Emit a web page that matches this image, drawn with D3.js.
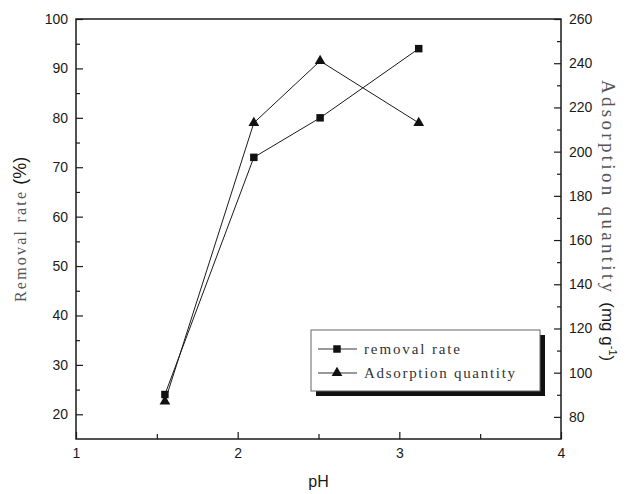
<!DOCTYPE html>
<html>
<head>
<meta charset="utf-8">
<script src="https://cdn.jsdelivr.net/npm/d3@7"></script>
<style>
  html, body { margin: 0; padding: 0; background: #fff; }
  svg { display: block; }
</style>
</head>
<body>
<svg id="chart" width="634" height="494"></svg>
<script>
// pH series with removal rate (left axis) and adsorption quantity (right axis)
const phValues = [1.55, 2.10, 2.51, 3.12];
const removalRate = [24, 72, 80, 94];
const adsorptionQty = [87, 213, 241, 213];

const xMajorTicks = [1, 2, 3, 4];
const xMinorTicks = [1.5, 2.5, 3.5];
const leftMajorTicks = [20, 30, 40, 50, 60, 70, 80, 90, 100];
const leftMinorTicks = [25, 35, 45, 55, 65, 75, 85, 95];
const rightMajorTicks = [80, 100, 120, 140, 160, 180, 200, 220, 240, 260];
const rightMinorTicks = [90, 110, 130, 150, 170, 190, 210, 230, 250];

const seriesNames = ["removal rate", "Adsorption quantity"];

const svg = d3.select("#chart");
const margin = { left: 76, right: 73, top: 19, bottom: 55 };
const W = 634, H = 494;
const x0 = margin.left, x1 = W - margin.right;
const y0 = H - margin.bottom, y1 = margin.top;

const x = d3.scaleLinear().domain([1, 4]).range([x0, x1]);
const yL = d3.scaleLinear().domain([15, 100]).range([y0, y1]);
const yR = d3.scaleLinear().domain([70, 260]).range([y0, y1]);

const ink = "#1a1a1a";
const sans = "'Liberation Sans', Arial, sans-serif";
const serif = "'Liberation Serif', 'DejaVu Serif', serif";

function styleAxis(g) {
  g.select(".domain").remove();
  g.selectAll(".tick line").attr("stroke", ink).attr("stroke-width", 1.2);
  g.selectAll(".tick text").attr("fill", ink).style("font-family", sans).style("font-size", "14px");
}

// bottom axis
svg.append("g").attr("transform", `translate(0,${y0})`)
  .call(d3.axisBottom(x).tickValues(xMajorTicks).tickSize(-7).tickPadding(9).tickFormat(d3.format("d")))
  .call(styleAxis);
svg.append("g").attr("transform", `translate(0,${y0})`)
  .call(d3.axisBottom(x).tickValues(xMinorTicks).tickSize(-5).tickFormat(""))
  .call(styleAxis);

// left axis
svg.append("g").attr("transform", `translate(${x0},0)`)
  .call(d3.axisLeft(yL).tickValues(leftMajorTicks).tickSize(-7).tickPadding(8).tickFormat(d3.format("d")))
  .call(styleAxis);
svg.append("g").attr("transform", `translate(${x0},0)`)
  .call(d3.axisLeft(yL).tickValues(leftMinorTicks).tickSize(-4).tickFormat(""))
  .call(styleAxis);

// right axis
svg.append("g").attr("transform", `translate(${x1},0)`)
  .call(d3.axisRight(yR).tickValues(rightMajorTicks).tickSize(-7).tickPadding(8).tickFormat(d3.format("d")))
  .call(styleAxis);
svg.append("g").attr("transform", `translate(${x1},0)`)
  .call(d3.axisRight(yR).tickValues(rightMinorTicks).tickSize(-4).tickFormat(""))
  .call(styleAxis);

// frame
svg.append("rect")
  .attr("x", x0).attr("y", y1).attr("width", x1 - x0).attr("height", y0 - y1)
  .attr("fill", "none").attr("stroke", ink).attr("stroke-width", 1.5);

// axis titles
svg.append("text")
  .attr("x", (x0 + x1) / 2).attr("y", 487)
  .attr("text-anchor", "middle").attr("fill", ink)
  .style("font-family", sans).style("font-size", "16px")
  .text("pH");

const leftTitle = svg.append("text")
  .attr("transform", "translate(26,302) rotate(-90)")
  .attr("fill", "#555");
leftTitle.append("tspan").style("font-family", serif).style("font-size", "16px")
  .attr("textLength", 110).attr("lengthAdjust", "spacing").text("Removal rate");
leftTitle.append("tspan").attr("dx", 5).style("font-family", sans).style("font-size", "18px")
  .attr("fill", ink).text("(%)");

const rightTitle = svg.append("text")
  .attr("transform", "translate(602,80) rotate(90)")
  .attr("fill", "#555");
rightTitle.append("tspan").style("font-family", serif).style("font-size", "19px")
  .attr("textLength", 212).attr("lengthAdjust", "spacing").text("Adsorption quantity");
rightTitle.append("tspan").attr("dx", 7).style("font-family", sans).style("font-size", "17px").attr("fill", ink).text("(mg g");
rightTitle.append("tspan").style("font-family", sans).style("font-size", "11px").attr("fill", ink).attr("dy", -7).text("-1");
rightTitle.append("tspan").style("font-family", sans).style("font-size", "17px").attr("fill", ink).attr("dy", 7).text(")");

// series
const removalPts = phValues.map((p, i) => [x(p), yL(removalRate[i])]);
const adsorptionPts = phValues.map((p, i) => [x(p), yR(adsorptionQty[i])]);
const line = d3.line();

svg.append("path").attr("d", line(removalPts)).attr("fill", "none").attr("stroke", ink).attr("stroke-width", 1);
svg.append("path").attr("d", line(adsorptionPts)).attr("fill", "none").attr("stroke", ink).attr("stroke-width", 1);

const square = d3.symbol().type(d3.symbolSquare).size(56);
const triangle = d3.symbol().type(d3.symbolTriangle).size(50);

svg.selectAll(".sq").data(removalPts).join("path")
  .attr("transform", d => `translate(${d[0]},${d[1]})`)
  .attr("d", square).attr("fill", "#111");
svg.selectAll(".tri").data(adsorptionPts).join("path")
  .attr("transform", d => `translate(${d[0]},${d[1]})`)
  .attr("d", triangle).attr("fill", "#111");

// legend with drop shadow
const lg = { x: 311, y: 330, w: 229, h: 61 };
svg.append("rect").attr("x", lg.x + 5).attr("y", lg.y + 5).attr("width", lg.w).attr("height", lg.h).attr("fill", "#111");
svg.append("rect").attr("x", lg.x).attr("y", lg.y).attr("width", lg.w).attr("height", lg.h)
  .attr("fill", "#fff").attr("stroke", "#666").attr("stroke-width", 1);

const symbols = [square, triangle];
const legendTextWidths = [96, 151];
seriesNames.forEach((name, i) => {
  const cy = lg.y + 19 + i * 24;
  svg.append("line").attr("x1", lg.x + 7).attr("x2", lg.x + 46).attr("y1", cy).attr("y2", cy)
    .attr("stroke", "#333").attr("stroke-width", 1);
  svg.append("path").attr("transform", `translate(${lg.x + 26},${cy})`).attr("d", symbols[i]).attr("fill", "#111");
  svg.append("text").attr("x", lg.x + 53).attr("y", cy + 5)
    .attr("fill", "#333").style("font-family", serif).style("font-size", "15px")
    .attr("textLength", legendTextWidths[i]).attr("lengthAdjust", "spacing").text(name);
});
</script>
</body>
</html>
